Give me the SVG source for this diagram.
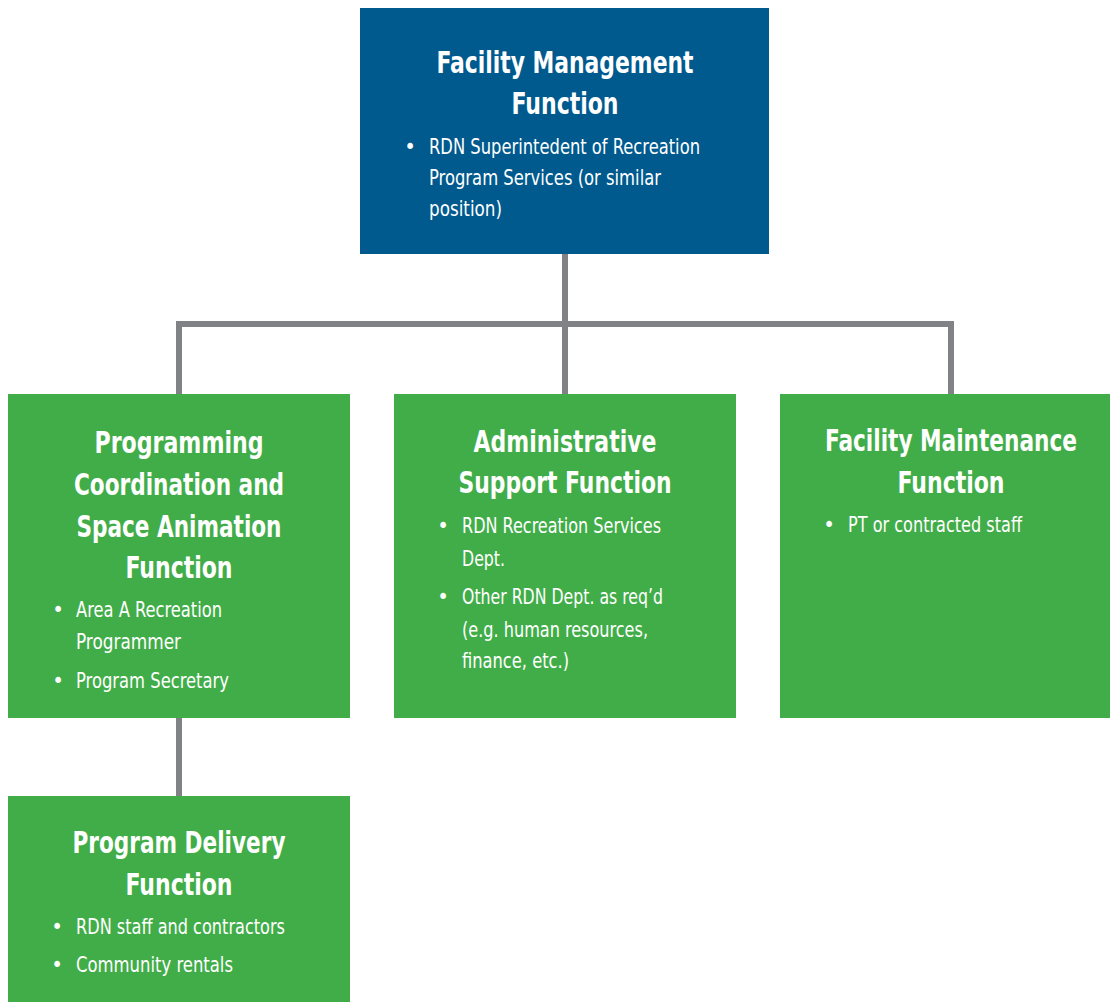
<svg xmlns="http://www.w3.org/2000/svg" width="1110" height="1002" viewBox="0 0 1110 1002">
<style>
.blue{fill:#005A8E}
.green{fill:#41AD49}
.t{font-family:"Liberation Sans Narrow","DejaVu Sans Condensed","Liberation Sans",sans-serif;font-stretch:condensed;fill:#ffffff}
.h{font-size:31px;font-weight:bold;text-anchor:middle}
.b{font-size:22px}
.d{font-size:22px;text-anchor:middle}
.conn{fill:none;stroke:#808285;stroke-width:6}
</style>
<rect width="1110" height="1002" fill="#ffffff"/>
<g id="connectors">
<path class="conn" d="M565 254V324M179 394V324H951V394M565 324V394M179 718V796"/>
</g>
<g id="facility-management">
<rect class="blue" x="360" y="8" width="409" height="246"/>
<text class="t h" x="565" y="73" textLength="257" lengthAdjust="spacingAndGlyphs">Facility Management</text>
<text class="t h" x="565" y="114" textLength="107" lengthAdjust="spacingAndGlyphs">Function</text>
<text class="t d" x="410" y="154">•</text>
<text class="t b" x="429" y="154" textLength="271" lengthAdjust="spacingAndGlyphs">RDN Superintedent of Recreation</text>
<text class="t b" x="429" y="185" textLength="232" lengthAdjust="spacingAndGlyphs">Program Services (or similar</text>
<text class="t b" x="429" y="216" textLength="73" lengthAdjust="spacingAndGlyphs">position)</text>
</g>
<g id="programming-coordination">
<rect class="green" x="8" y="394" width="342" height="324"/>
<text class="t h" x="179" y="453" textLength="169" lengthAdjust="spacingAndGlyphs">Programming</text>
<text class="t h" x="179" y="495" textLength="210" lengthAdjust="spacingAndGlyphs">Coordination and</text>
<text class="t h" x="179" y="537" textLength="205" lengthAdjust="spacingAndGlyphs">Space Animation</text>
<text class="t h" x="179" y="578" textLength="107" lengthAdjust="spacingAndGlyphs">Function</text>
<text class="t d" x="58" y="617">•</text>
<text class="t b" x="76" y="617" textLength="146" lengthAdjust="spacingAndGlyphs">Area A Recreation</text>
<text class="t b" x="76" y="649" textLength="105" lengthAdjust="spacingAndGlyphs">Programmer</text>
<text class="t d" x="58" y="688">•</text>
<text class="t b" x="76" y="688" textLength="153" lengthAdjust="spacingAndGlyphs">Program Secretary</text>
</g>
<g id="administrative-support">
<rect class="green" x="394" y="394" width="342" height="324"/>
<text class="t h" x="565" y="452" textLength="183" lengthAdjust="spacingAndGlyphs">Administrative</text>
<text class="t h" x="565" y="493" textLength="213" lengthAdjust="spacingAndGlyphs">Support Function</text>
<text class="t d" x="443" y="533">•</text>
<text class="t b" x="462" y="533" textLength="199" lengthAdjust="spacingAndGlyphs">RDN Recreation Services</text>
<text class="t b" x="462" y="566" textLength="43" lengthAdjust="spacingAndGlyphs">Dept.</text>
<text class="t d" x="443" y="604">•</text>
<text class="t b" x="462" y="604" textLength="201" lengthAdjust="spacingAndGlyphs">Other RDN Dept. as req’d</text>
<text class="t b" x="462" y="637" textLength="186" lengthAdjust="spacingAndGlyphs">(e.g. human resources,</text>
<text class="t b" x="462" y="668" textLength="107" lengthAdjust="spacingAndGlyphs">finance, etc.)</text>
</g>
<g id="facility-maintenance">
<rect class="green" x="780" y="394" width="330" height="324"/>
<text class="t h" x="951" y="451" textLength="252" lengthAdjust="spacingAndGlyphs">Facility Maintenance</text>
<text class="t h" x="951" y="493" textLength="107" lengthAdjust="spacingAndGlyphs">Function</text>
<text class="t d" x="829" y="532">•</text>
<text class="t b" x="848" y="532" textLength="174" lengthAdjust="spacingAndGlyphs">PT or contracted staff</text>
</g>
<g id="program-delivery">
<rect class="green" x="8" y="796" width="342" height="206"/>
<text class="t h" x="179" y="853" textLength="213" lengthAdjust="spacingAndGlyphs">Program Delivery</text>
<text class="t h" x="179" y="895" textLength="107" lengthAdjust="spacingAndGlyphs">Function</text>
<text class="t d" x="57" y="934">•</text>
<text class="t b" x="76" y="934" textLength="209" lengthAdjust="spacingAndGlyphs">RDN staff and contractors</text>
<text class="t d" x="57" y="972">•</text>
<text class="t b" x="76" y="972" textLength="157" lengthAdjust="spacingAndGlyphs">Community rentals</text>
</g>
</svg>
